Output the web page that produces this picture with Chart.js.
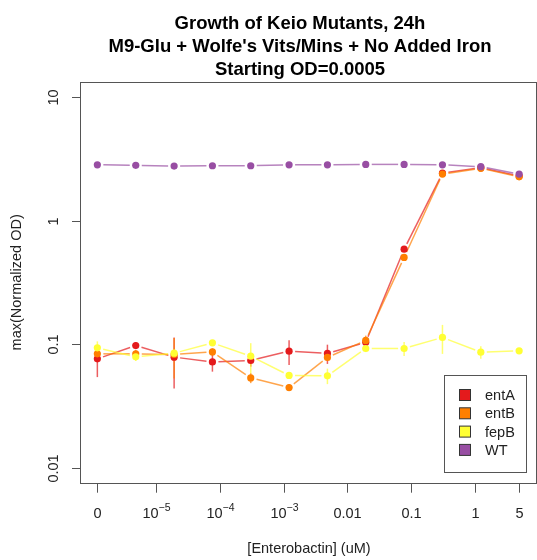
<!DOCTYPE html>
<html>
<head>
<meta charset="utf-8">
<script src="https://cdn.jsdelivr.net/npm/chart.js@4.4.1/dist/chart.umd.min.js"></script>
<style>
    html, body { margin: 0; padding: 0; background: #fff; overflow: hidden; }
    #wrap { width: 537px; height: 560px; overflow: hidden; }
    #wrap canvas { display: block; }
</style>
</head>
<body>
<div id="wrap"><canvas id="chart" width="540" height="560"></canvas></div>
<script>
// Enterobactin concentrations (uM), 4-fold dilution series; 0 is drawn at ZERO_AT
const CONC = [0, 4.77e-6, 1.91e-5, 7.63e-5, 3.05e-4, 1.22e-3, 4.88e-3, 0.0195, 0.0781, 0.3125, 1.25, 5];
const ZERO_AT = 1.19e-6;

const SERIES_NAMES = ['entA', 'entB', 'fepB', 'WT'];
const SERIES_COLORS = ['#E41A1C', '#FF7F00', '#FFFF33', '#984EA3'];

const ENTA = [0.0765, 0.098, 0.079, 0.0723, 0.0742, 0.0883, 0.0846, 0.104, 0.589, 2.42, 2.68, 2.30];
const ENTB = [0.084, 0.084, 0.083, 0.087, 0.0537, 0.0449, 0.0785, 0.1078, 0.505, 2.38, 2.65, 2.26];
const FEPB = [0.0939, 0.0794, 0.085, 0.103, 0.0804, 0.0562, 0.0558, 0.0928, 0.0928, 0.1139, 0.0867, 0.0888];
const WT = [2.83, 2.80, 2.76, 2.78, 2.78, 2.83, 2.83, 2.85, 2.85, 2.83, 2.73, 2.38];

// standard deviations (error bars)
const ENTA_SD = [0.022, 0.006, 0.035, 0.012, 0.008, 0.02, 0.015, 0.01, 0.03, 0.1, 0.05, 0.05];
const ENTB_SD = [0.008, 0.006, 0.03, 0.006, 0.005, 0.003, 0.005, 0.01, 0.03, 0.12, 0.05, 0.05];
const FEPB_SD = [0.012, 0.006, 0.006, 0.005, 0.022, 0.003, 0.008, 0.006, 0.012, 0.03, 0.01, 0.004];
const WT_SD = [0.05, 0.05, 0.05, 0.05, 0.05, 0.05, 0.05, 0.05, 0.05, 0.05, 0.05, 0.05];

const X_TICK_VALUES = [0, 1e-5, 1e-4, 1e-3, 0.01, 0.1, 1, 5];
const X_TICK_LABELS = ['0', ['10', '\u22125'], ['10', '\u22124'], ['10', '\u22123'], '0.01', '0.1', '1', '5'];
const Y_TICK_VALUES = [0.01, 0.1, 1, 10];
const Y_TICK_LABELS = ['0.01', '0.1', '1', '10'];

const TITLE_LINES = ['Growth of Keio Mutants, 24h', "M9-Glu + Wolfe's Vits/Mins + No Added Iron", 'Starting OD=0.0005'];
const X_TITLE = '[Enterobactin] (uM)';
const Y_TITLE = 'max(Normalized OD)';

const FONT = '"Liberation Sans", Arial, Helvetica, sans-serif';
const INK = '#222';
const FRAME = '#555';
const LINE_GAP = 6;

function xPos(c) { return c === 0 ? ZERO_AT : c; }

function hexA(hex, a) {
    const n = parseInt(hex.slice(1), 16);
    return `rgba(${(n >> 16) & 255}, ${(n >> 8) & 255}, ${n & 255}, ${a})`;
}

const allValues = [ENTA, ENTB, FEPB, WT];
const allSd = [ENTA_SD, ENTB_SD, FEPB_SD, WT_SD];

const datasets = SERIES_NAMES.map((name, i) => ({
    label: name,
    data: allValues[i].map((v, k) => ({ x: xPos(CONC[k]), y: v })),
    sd: allSd[i],
    backgroundColor: SERIES_COLORS[i],
    pointBackgroundColor: SERIES_COLORS[i],
    pointBorderColor: SERIES_COLORS[i],
    pointBorderWidth: 0,
    pointRadius: 3.6,
    showLine: false,
    order: SERIES_NAMES.length - i
}));

// R-style "type = b": line segments that stop short of each point, plus error bars
const gappedLines = {
    id: 'gappedLines',
    beforeDatasetsDraw(chart) {
        const ctx = chart.ctx;
        const xs = chart.scales.x, ys = chart.scales.y;
        ctx.save();
        ctx.lineWidth = 1.5;
        chart.data.datasets.forEach((ds, i) => {
            ctx.strokeStyle = hexA(SERIES_COLORS[i], 0.7);
            const pts = ds.data.map(p => [xs.getPixelForValue(p.x), ys.getPixelForValue(p.y)]);
            for (let k = 0; k < pts.length - 1; k++) {
                const [x0, y0] = pts[k], [x1, y1] = pts[k + 1];
                const d = Math.hypot(x1 - x0, y1 - y0);
                if (d <= 2 * LINE_GAP) continue;
                const ux = (x1 - x0) / d, uy = (y1 - y0) / d;
                ctx.beginPath();
                ctx.moveTo(x0 + ux * LINE_GAP, y0 + uy * LINE_GAP);
                ctx.lineTo(x1 - ux * LINE_GAP, y1 - uy * LINE_GAP);
                ctx.stroke();
            }
            ds.data.forEach((p, k) => {
                const sd = ds.sd[k];
                const lo = Math.max(p.y - sd, 1e-4);
                ctx.beginPath();
                ctx.moveTo(pts[k][0], ys.getPixelForValue(lo));
                ctx.lineTo(pts[k][0], ys.getPixelForValue(p.y + sd));
                ctx.stroke();
            });
        });
        ctx.restore();
    }
};

const axesAndText = {
    id: 'axesAndText',
    afterDraw(chart) {
        const ctx = chart.ctx;
        const a = chart.chartArea;
        const xs = chart.scales.x, ys = chart.scales.y;
        ctx.save();

        // frame
        ctx.strokeStyle = FRAME;
        ctx.lineWidth = 1;
        ctx.strokeRect(Math.round(a.left) + 0.5, Math.round(a.top) + 0.5,
            Math.round(a.right - a.left), Math.round(a.bottom - a.top));

        // x ticks + labels
        ctx.fillStyle = INK;
        X_TICK_VALUES.forEach((v, i) => {
            const px = Math.round(xs.getPixelForValue(xPos(v))) + 0.5;
            ctx.beginPath();
            ctx.moveTo(px, a.bottom + 1);
            ctx.lineTo(px, a.bottom + 10);
            ctx.stroke();
            const lab = X_TICK_LABELS[i];
            ctx.textBaseline = 'alphabetic';
            if (Array.isArray(lab)) {
                ctx.font = `14.5px ${FONT}`;
                const w1 = ctx.measureText(lab[0]).width;
                ctx.font = `10.5px ${FONT}`;
                const w2 = ctx.measureText(lab[1]).width;
                const x0 = px - (w1 + w2) / 2;
                ctx.textAlign = 'left';
                ctx.font = `14.5px ${FONT}`;
                ctx.fillText(lab[0], x0, 518);
                ctx.font = `10.5px ${FONT}`;
                ctx.fillText(lab[1], x0 + w1, 511);
            } else {
                ctx.font = `14.5px ${FONT}`;
                ctx.textAlign = 'center';
                ctx.fillText(lab, px, 518);
            }
        });

        // y ticks + rotated labels
        Y_TICK_VALUES.forEach((v, i) => {
            const py = Math.round(ys.getPixelForValue(v)) + 0.5;
            ctx.beginPath();
            ctx.moveTo(a.left - 8, py);
            ctx.lineTo(a.left, py);
            ctx.stroke();
            ctx.save();
            ctx.translate(58, py);
            ctx.rotate(-Math.PI / 2);
            ctx.font = `14.5px ${FONT}`;
            ctx.textAlign = 'center';
            ctx.textBaseline = 'alphabetic';
            ctx.fillText(Y_TICK_LABELS[i], 0, 0);
            ctx.restore();
        });

        // axis titles
        ctx.font = `14.5px ${FONT}`;
        ctx.textAlign = 'center';
        ctx.textBaseline = 'alphabetic';
        ctx.fillText(X_TITLE, 309, 553);
        ctx.save();
        ctx.translate(21, (a.top + a.bottom) / 2);
        ctx.rotate(-Math.PI / 2);
        ctx.fillText(Y_TITLE, 0, 0);
        ctx.restore();

        // main title
        ctx.font = `bold 18.5px ${FONT}`;
        ctx.fillStyle = '#000';
        const baselines = [29, 52, 74.5];
        TITLE_LINES.forEach((t, i) => ctx.fillText(t, 300, baselines[i]));

        // legend
        const lx = 444, ly = 375, lw = 82, lh = 97;
        ctx.fillStyle = '#fff';
        ctx.fillRect(lx, ly, lw, lh);
        ctx.strokeStyle = FRAME;
        ctx.strokeRect(lx + 0.5, ly + 0.5, lw, lh);
        SERIES_NAMES.forEach((name, i) => {
            const cy = 395 + i * 18.3;
            ctx.fillStyle = SERIES_COLORS[i];
            ctx.fillRect(459.5, cy - 5.5, 11, 11);
            ctx.strokeStyle = '#333';
            ctx.strokeRect(459.5, cy - 5.5, 11, 11);
            ctx.fillStyle = INK;
            ctx.font = `14.5px ${FONT}`;
            ctx.textAlign = 'left';
            ctx.textBaseline = 'middle';
            ctx.fillText(name, 485, cy + 1);
        });

        ctx.restore();
    }
};

new Chart(document.getElementById('chart'), {
    type: 'scatter',
    data: { datasets },
    options: {
        responsive: false,
        animation: false,
        layout: { padding: { left: 80, top: 82, bottom: 77.3, right: 1.5 } },
        plugins: { legend: { display: false }, tooltip: { enabled: false }, title: { display: false } },
        scales: {
            x: { type: 'logarithmic', display: false, min: 6.354e-7, max: 9.2 },
            y: { type: 'logarithmic', display: false, min: 0.00764, max: 13.2 }
        }
    },
    plugins: [gappedLines, axesAndText]
});
</script>
</body>
</html>
